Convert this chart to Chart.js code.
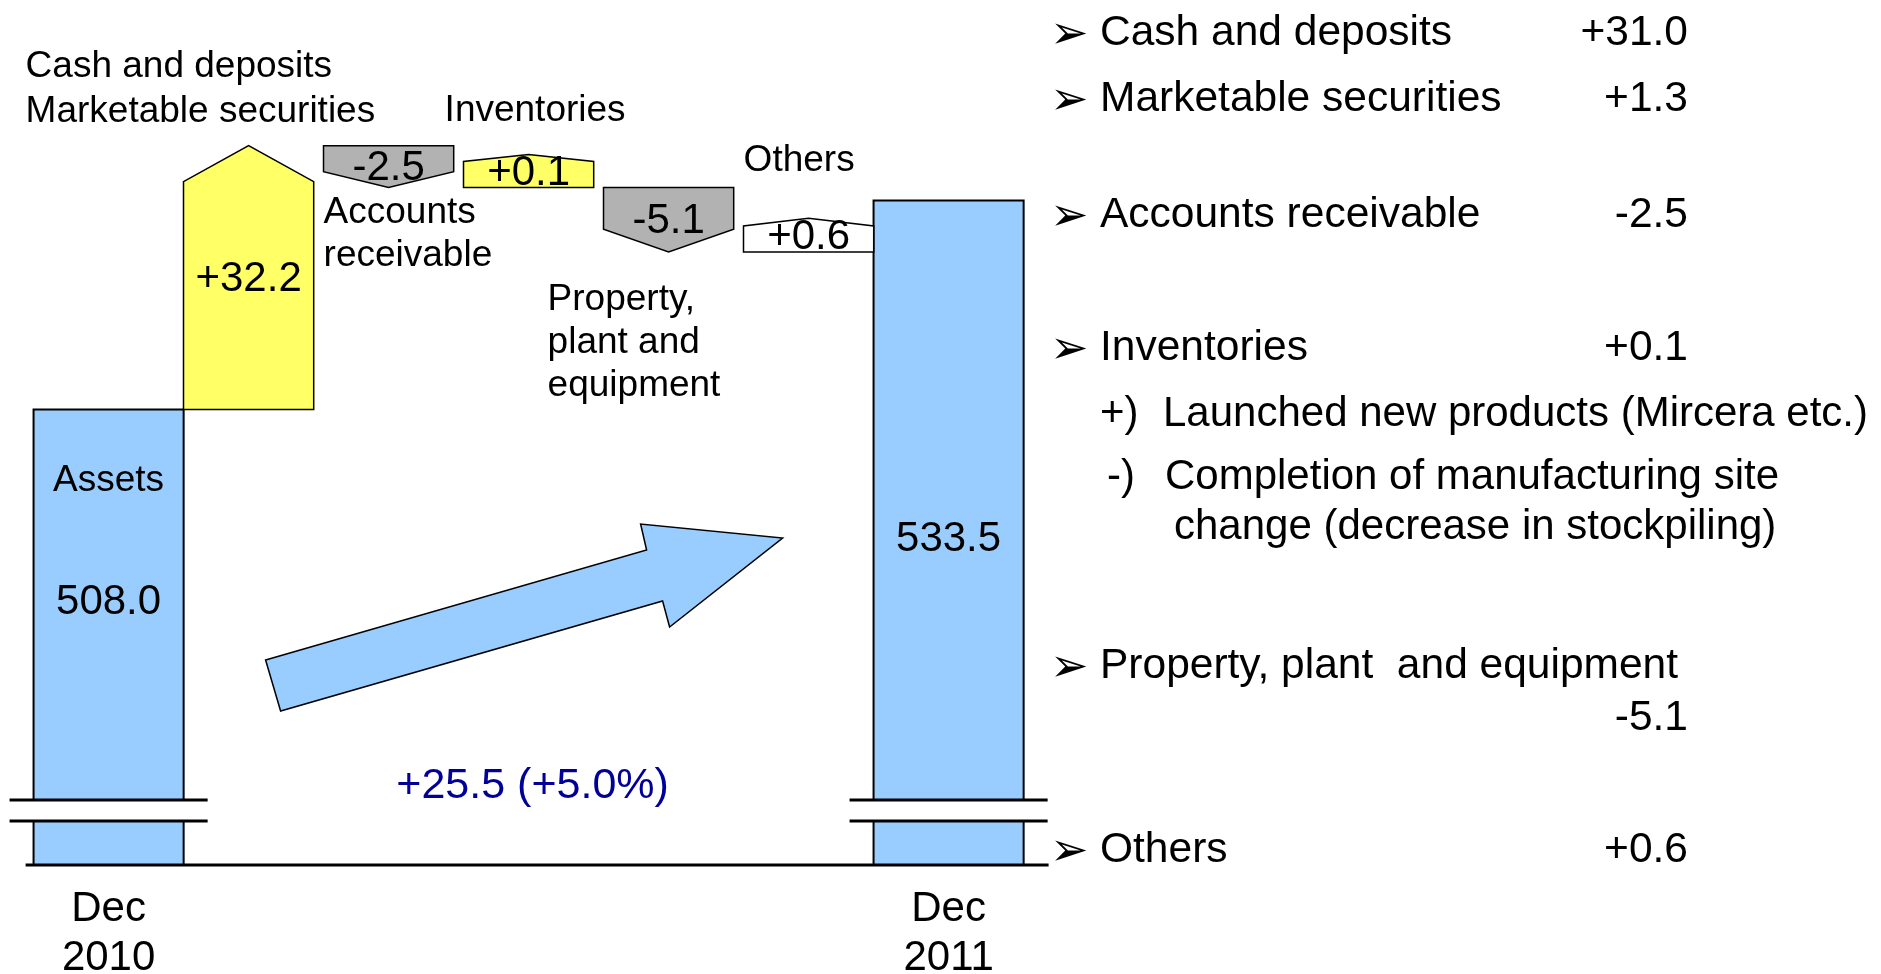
<!DOCTYPE html>
<html lang="en">
<head>
  <meta charset="UTF-8" />
  <title>Assets: Dec 2010 to Dec 2011</title>
  <script src="https://cdn.jsdelivr.net/npm/chart.js"></script>
  <style>
    html, body { margin: 0; padding: 0; background: #fff; }
    body { width: 1881px; height: 974px; position: relative; overflow: hidden; font-family: "Liberation Sans", Arial, sans-serif; }
    #wrap { position: absolute; left: 0; top: 0; width: 1881px; height: 974px; }
    .note { position: absolute; line-height: 1; white-space: pre; color: #000; }
    .bullet { font-family: "DejaVu Sans", sans-serif; }
  </style>
</head>
<body>
  <div id="wrap"><canvas id="assetsChart"></canvas></div>
  <div id="notes"></div>

  <script>
    // Waterfall data
    const categories = ['Dec 2010', 'Cash and deposits, Marketable securities', 'Accounts receivable', 'Inventories', 'Property, plant and equipment', 'Others', 'Dec 2011'];
    const tickLabels = [['Dec', '2010'], '', '', '', '', '', ['Dec', '2011']];
    const totalValues = [508.0, null, null, null, null, null, 533.5];
    const changeValues = [32.2, -2.5, 0.1, -5.1, 0.6];
    const changeNames = [['Cash and deposits', 'Marketable securities'], ['Accounts', 'receivable'], ['Inventories'], ['Property,', 'plant and', 'equipment'], ['Others']];

    // Breakdown list on the right
    const noteNames = ['Cash and deposits', 'Marketable securities', 'Accounts receivable', 'Inventories', 'Property, plant  and equipment', 'Others'];
    const noteValues = [31.0, 1.3, -2.5, 0.1, -5.1, 0.6];

    const changeColors = ['#FFFF66', '#B2B2B2', '#FFFF66', '#B2B2B2', '#FFFFFF'];
    const FONT = '"Liberation Sans", Arial, sans-serif';
    const MIN_LEN = 26; // small changes are drawn with a visible body

    // floating bars for the changes, stacked on the running level
    let level = totalValues[0];
    const changeData = [null];
    changeValues.forEach(v => { changeData.push([level, level + v]); level += v; });
    changeData.push(null);
    const colors = [null, ...changeColors, null];

    const fmt = v => (v > 0 ? '+' : '') + v.toFixed(1);

    // annotation placement (x from bar centre, baseline from chart top)
    const nameLayout = [
      { dx: -223, y: 37, gap: 45 },
      { dx: -65, y: 183, gap: 43 },
      { dx: -84, y: 81, gap: 43 },
      { dx: -121, y: 270, gap: 43 },
      { dx: -65, y: 131, gap: 43 }
    ];

    const waterfallPlugin = {
      id: 'waterfall',
      beforeDatasetDraw() {
        return false; // bars are drawn below with their arrow heads
      },
      afterDatasetsDraw(chart) {
        const ctx = chart.ctx;
        const area = chart.chartArea;
        const ys = chart.scales.y;
        const totalsMeta = chart.getDatasetMeta(0);
        const changeMeta = chart.getDatasetMeta(1);
        ctx.save();
        ctx.lineJoin = 'miter';

        // total bars with the axis break
        totalsMeta.data.forEach((bar, i) => {
          if (totalValues[i] == null) return;
          const p = bar.getProps(['x', 'y', 'width'], true);
          const left = p.x - p.width / 2, right = p.x + p.width / 2;
          ctx.fillStyle = '#99CCFF';
          ctx.fillRect(left, p.y, p.width, area.bottom - p.y);
          ctx.strokeStyle = '#000';
          ctx.lineWidth = 2;
          ctx.beginPath();
          ctx.moveTo(left, area.bottom); ctx.lineTo(left, p.y); ctx.lineTo(right, p.y); ctx.lineTo(right, area.bottom);
          ctx.stroke();
          const y1 = area.bottom - 65, y2 = area.bottom - 44;
          ctx.fillStyle = '#fff';
          ctx.fillRect(left - 2, y1, p.width + 4, y2 - y1);
          ctx.lineWidth = 3;
          ctx.beginPath();
          ctx.moveTo(left - 24, y1); ctx.lineTo(right + 24, y1);
          ctx.moveTo(left - 24, y2); ctx.lineTo(right + 24, y2);
          ctx.stroke();
        });

        // change bars drawn as arrows, cascading from one to the next
        const shapes = [];
        let cursor = null;
        changeMeta.data.forEach((bar, i) => {
          const d = changeData[i];
          if (!d) return;
          const v = changeValues[i - 1];
          const p = bar.getProps(['x', 'width'], true);
          const left = p.x - p.width / 2, right = p.x + p.width / 2;
          const trueLen = Math.abs(ys.getPixelForValue(d[1]) - ys.getPixelForValue(d[0]));
          const len = Math.max(trueLen, MIN_LEN);
          const start = cursor == null ? ys.getPixelForValue(d[0]) : cursor;
          const up = v > 0;
          const end = up ? start - len : start + len;
          const headH = Math.max(7, Math.min(36, 3.5 * Math.sqrt(trueLen)));
          const inside = len > 100;
          let tip, shoulder;
          if (up) { tip = inside ? end : end - headH; shoulder = tip + headH; }
          else { tip = inside ? end : end + headH; shoulder = tip - headH; }
          ctx.beginPath();
          ctx.moveTo(left, start);
          ctx.lineTo(left, shoulder);
          ctx.lineTo(p.x, tip);
          ctx.lineTo(right, shoulder);
          ctx.lineTo(right, start);
          ctx.closePath();
          ctx.fillStyle = colors[i];
          ctx.fill();
          ctx.lineWidth = 1.5;
          ctx.strokeStyle = '#000';
          ctx.stroke();
          shapes.push({ i, x: p.x, mid: (start + tip) / 2 });
          cursor = !up ? tip : (trueLen < MIN_LEN ? start : end);
        });

        // baseline
        ctx.strokeStyle = '#000';
        ctx.lineWidth = 3;
        ctx.beginPath();
        ctx.moveTo(area.left - 13, area.bottom);
        ctx.lineTo(area.right + 30, area.bottom);
        ctx.stroke();

        // big growth arrow
        const L = area.left, B = area.bottom;
        const pts = [[227, -205], [608, -315], [602, -341], [744, -327], [631, -238], [624, -264], [242, -154]];
        ctx.beginPath();
        pts.forEach(([dx, dy], k) => k ? ctx.lineTo(L + dx, B + dy) : ctx.moveTo(L + dx, B + dy));
        ctx.closePath();
        ctx.fillStyle = '#99CCFF';
        ctx.fill();
        ctx.lineWidth = 1.5;
        ctx.strokeStyle = '#000';
        ctx.stroke();

        // value labels on the change bars
        ctx.fillStyle = '#000';
        ctx.textAlign = 'center';
        ctx.textBaseline = 'middle';
        ctx.font = '42px ' + FONT;
        shapes.forEach(s => ctx.fillText(fmt(changeValues[s.i - 1]), s.x, s.mid + 2));

        // category names next to the change bars
        ctx.textAlign = 'left';
        ctx.textBaseline = 'alphabetic';
        ctx.font = '37px ' + FONT;
        shapes.forEach(s => {
          const lay = nameLayout[s.i - 1];
          changeNames[s.i - 1].forEach((line, k) => ctx.fillText(line, s.x + lay.dx, area.top + lay.y + k * lay.gap));
        });

        // total bar labels
        ctx.textAlign = 'center';
        const first = totalsMeta.data[0].getProps(['x', 'y'], true);
        const last = totalsMeta.data[6].getProps(['x', 'y'], true);
        ctx.font = '37px ' + FONT;
        ctx.fillText('Assets', first.x, first.y + 82);
        ctx.font = '42px ' + FONT;
        ctx.fillText(totalValues[0].toFixed(1), first.x, first.y + 205);
        ctx.fillText(totalValues[6].toFixed(1), last.x, last.y + 350);

        // overall change
        const diff = totalValues[6] - totalValues[0];
        const pct = diff / totalValues[0] * 100;
        ctx.font = '43px ' + FONT;
        ctx.fillStyle = '#000099';
        ctx.fillText(fmt(diff) + ' (' + fmt(pct) + '%)', chart.scales.x.getPixelForValue(3) + 4, area.bottom - 67);

        ctx.restore();
      }
    };

    Chart.defaults.font.family = FONT;

    new Chart(document.getElementById('assetsChart'), {
      type: 'bar',
      data: {
        labels: categories,
        datasets: [
          {
            label: 'Assets',
            data: totalValues,
            backgroundColor: '#99CCFF',
            borderColor: '#000',
            borderWidth: 2,
            grouped: false,
            categoryPercentage: 1,
            barPercentage: 1.072
          },
          {
            label: 'Change',
            data: changeData,
            backgroundColor: colors,
            borderColor: '#000',
            borderWidth: 1.5,
            grouped: false,
            categoryPercentage: 1,
            barPercentage: 0.93
          }
        ]
      },
      options: {
        responsive: true,
        maintainAspectRatio: false,
        animation: false,
        layout: { padding: { left: 38.6, right: 862.4, top: 40, bottom: 0 } },
        plugins: { legend: { display: false }, tooltip: { enabled: false } },
        scales: {
          x: {
            grid: { display: false, drawTicks: false },
            border: { display: false },
            ticks: {
              autoSkip: false,
              maxRotation: 0,
              padding: 20,
              color: '#000',
              font: { size: 42, lineHeight: 1.167 },
              callback: (v, i) => tickLabels[i]
            },
            afterFit: s => { s.height = 109; }
          },
          y: { display: false, min: 452.4, max: 553.1 }
        }
      },
      plugins: [waterfallPlugin]
    });

    // Right-hand breakdown list
    const notes = document.getElementById('notes');
    function addText(text, baseline, size, left, right, cls) {
      const d = document.createElement('div');
      d.className = 'note' + (cls ? ' ' + cls : '');
      d.textContent = text;
      d.style.fontSize = size + 'px';
      d.style.top = (baseline - 0.8465 * size) + 'px';
      if (right != null) d.style.right = (1881 - right) + 'px';
      else d.style.left = left + 'px';
      notes.appendChild(d);
    }
    const rowBase = [46, 112, 228, 361, 679, 863];
    noteNames.forEach((name, i) => {
      addText('\u27A2', rowBase[i] + 2, 46, 1050, null, 'bullet');
      addText(name, rowBase[i], 42.5, 1100);
      const vb = name.length > 25 ? rowBase[i] + 52 : rowBase[i];
      addText(fmt(noteValues[i]), vb, 42.5, null, 1688);
    });
    addText('+)', 427, 42, 1100);
    addText('Launched new products (Mircera etc.)', 427, 42, 1163);
    addText('-)', 490, 42, 1107);
    addText('Completion of manufacturing site', 490, 42, 1165);
    addText('change (decrease in stockpiling)', 540, 42, 1174);
  </script>
</body>
</html>
